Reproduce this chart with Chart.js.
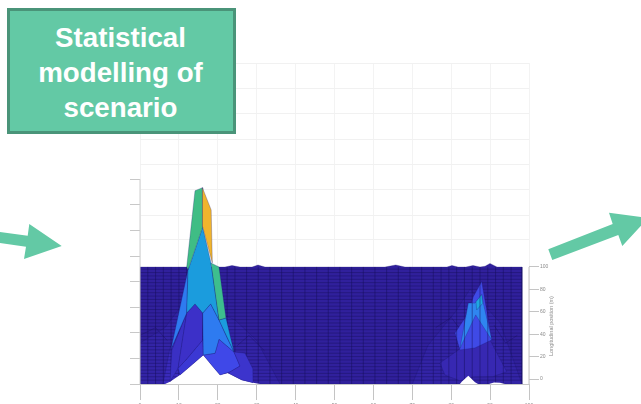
<!DOCTYPE html>
<html>
<head>
<meta charset="utf-8">
<script src="https://cdn.jsdelivr.net/npm/chart.js@4"></script>
<style>
html, body { margin: 0; padding: 0; background: #fff; overflow: hidden; }
#wrap { position: relative; width: 641px; height: 404px; overflow: hidden; }
#c { position: absolute; left: 0; top: 0; filter: blur(0.55px); }
#arrows { position: absolute; left: 0; top: 0; }
#box {
    position: absolute; left: 7px; top: 8px; width: 221px; height: 120px; padding-right: 2px;
    background: #63c9a5; border: 3px solid #4a9479;
    color: #fff; font: bold 27.7px/35px "Liberation Sans", Arial, sans-serif;
    text-align: center;
}
#box div:first-child { margin-top: 9px; }
#ylabel {
    position: absolute; left: 551px; top: 326px; white-space: nowrap;
    font: 5.5px "Liberation Sans", Arial, sans-serif; color: #8a8a8a;
    transform: translate(-50%, -50%) rotate(-90deg);
}
</style>
</head>
<body>
<div id="wrap">
    <canvas id="c" width="641" height="404"></canvas>
    <svg id="arrows" width="641" height="404">
        <polygon fill="#63c9a5" points="0,232 27.7,235.7 29.3,224 61.7,246 24,259 26,246.7 0,243"/>
        <polygon fill="#63c9a5" points="548.3,249.3 552.3,260 618.3,235 622.3,246 648,218 609,212.7 612.7,224"/>
    </svg>
    <div id="box"><div>Statistical</div><div>modelling of</div><div>scenario</div></div>
    <div id="ylabel">Longitudinal position (m)</div>
</div>
<script>
// axis ticks
var xTicks = [0, 10, 20, 30, 40, 50, 60, 70, 80, 90, 100];
var leftTicks = [0, 1, 2, 3, 4, 5, 6, 7, 8];
var rightTicks = [0, 20, 40, 60, 80, 100];
var wallTicks = [5.63, 6.6, 7.58, 8.57, 9.57, 10.57, 11.56, 12.54];

// mesh lines, columns on x, rows on the longitudinal axis
var meshColumns = [0, 2, 4, 6, 8, 10, 12, 14, 16.1, 18.2, 20.3, 22.4, 24.4, 27.4, 30.4, 33.4, 36.4, 39.4, 42.4, 45.4, 48.4, 51.4, 54.4, 57.4, 60.4, 63.4, 66.4, 69.4, 72.4, 75.4, 77.4, 79.4, 81.4, 83.4, 85.4, 87.4, 89.4, 91.4, 93.4, 95.4, 98.2];
var meshRows = [98, 95, 92, 89, 86, 83, 80, 77, 74, 71, 68, 65, 62, 59, 56, 53, 50, 47, 44, 41, 38, 35, 32, 29, 26, 23, 20, 17, 14, 11, 8, 5, 2, -1];

// surface outline [x, height]
var surfaceBack = [[0, 0], [0, 4.57], [21.85, 4.57], [23.65, 4.63], [25.7, 4.57], [28.8, 4.57], [30.33, 4.65], [32.13, 4.57], [62.98, 4.57], [65.73, 4.65], [68.12, 4.57], [78.92, 4.57], [80.2, 4.63], [81.75, 4.57], [83.8, 4.57], [85.6, 4.63], [87.4, 4.57], [88.7, 4.6], [89.97, 4.71], [91.77, 4.57], [98.2, 4.57], [98.2, 0]];

// soft faces round the two peaks
var baseLeft = [[0, 0], [0, 1.6], [6.43, 2.2], [11.83, 3.3], [24.42, 2.5], [30, 1.7], [36, 0]];
var baseLeftInner = [[5.9, 0], [7.7, 1.4], [12, 2.5], [24.2, 1.3], [27, 0.8], [28.5, 0]];
var baseRight = [[70, 0], [74, 1.5], [80.98, 2.8], [84.83, 3.7], [92.54, 2.4], [98.2, 0]];

// right peak faces
var rightBottom = [[82.25, 1.37], [86.12, 1.42], [89.97, 1.72], [94.27, 0.48], [90.75, 0.29], [85.6, 0.28], [82.25, 0.13], [78.4, 0.35], [77.1, 0.82]];
var rightOuter = [[87.84, 4.0], [90.41, 1.72], [86.12, 1.41], [82.25, 1.33], [80.98, 1.99], [84.4, 2.77], [85.68, 3.41]];
var rightBright = [[84.4, 3.16], [86.12, 3.16], [87.84, 3.48], [88.26, 3.16], [90.41, 1.72], [86.3, 2.7], [82.25, 1.39]];
var rightCyan = [[86.37, 3.21], [87.84, 3.5], [88.1, 3.15], [86.55, 2.89]];

// white gaps along the front edge
var gapLeft = [[6.43, 0], [7.71, 0.09], [10.28, 0.35], [13.29, 0.74], [16.27, 1.13], [18.77, 0.67], [20.57, 0.35], [22.62, 0.43], [26.14, 0.16], [29.05, 0.05], [30.85, 0]];
var gapRight = [[82.26, 0], [82.7, 0.09], [84.4, 0.32], [86.12, 0.07], [86.9, 0]];
var gapSmall = [[89.72, 0], [91, 0.06], [92.54, 0.05], [93.8, 0]];

// left peak faces
var faceOuterLeft = [[8.2, 1.33], [12, 2.77], [9.8, 0.62], [7.71, 0.09]];
var faceLowBlue = [[16.12, 1.72], [16.27, 1.13], [13.29, 0.74], [10.28, 0.35], [9.8, 0.62], [11.8, 0.94]];
var faceLowLeft = [[12, 2.77], [14.14, 3.13], [16.12, 2.77], [16.12, 1.72], [11.8, 0.94], [9.8, 0.62]];
var faceLowMid = [[19.28, 1.2], [20.31, 1.75], [24.16, 1.25], [25.7, 0.7], [23.1, 0.47], [20.57, 0.35], [18.77, 0.67], [16.27, 1.13]];
var faceLowRight = [[24.16, 1.25], [27, 1.2], [29, 0.6], [29.05, 0.05], [26.14, 0.16], [22.62, 0.43], [23.1, 0.47], [25.7, 0.7]];
var faceBlueLeft = [[12.34, 4.45], [7.97, 1.36], [12, 2.77]];
var faceBlueCentre = [[16.12, 2.77], [18.17, 3.13], [20.31, 2.5], [22.1, 1.9], [24.16, 1.25], [20.31, 1.75], [19.28, 1.2], [16.27, 1.13]];
var faceCyan = [[16.12, 6.14], [12.34, 4.45], [12, 2.77], [14.14, 3.13], [16.12, 2.77], [18.17, 3.13], [20.31, 2.5], [18.25, 4.73]];
var faceCyanTip = [[20.31, 2.5], [22.1, 2.58], [24.16, 1.25]];
var faceGreenRight = [[18.25, 4.73], [20.31, 4.57], [22.1, 2.58], [20.31, 2.5]];
var faceGreenLeft = [[14.14, 7.55], [16.05, 7.67], [16.12, 6.14], [12.34, 4.45], [12, 4.57]];
var faceOrange = [[16.05, 7.67], [18.3, 6.8], [18.6, 4.73], [16.12, 6.14]];

// small folds in the mesh near the peaks
var foldA = [[0, 1.9], [4, 2.2], [7, 1.7]];
var foldB = [[25, 1.5], [28, 1.9], [32, 1.3]];
var foldC = [[76, 2.2], [80, 2.6], [83, 2.0]];
var foldD = [[91, 2.3], [94, 1.6], [97, 1.9]];

var lineDark = 'rgba(22,14,90,0.6)';
var edgeDark = 'rgba(28,24,110,0.45)';

var datasets = [];

function pts(list) {
    return list.map(function(p) { return { x: p[0], y: p[1] }; });
}

function addFace(list, colour) {
    datasets.push({
        data: pts(list.concat([list[0]])),
        fill: 'shape',
        backgroundColor: colour,
        borderColor: edgeDark,
        borderWidth: 0.6
    });
}

function addLine(data, colour, width, axis, noClip) {
    datasets.push({
        data: data,
        yAxisID: axis || 'y',
        borderColor: colour,
        borderWidth: width,
        clip: noClip ? false : undefined
    });
}

function addGap(list) {
    datasets.push({
        data: pts(list.concat([list[0]])),
        fill: 'shape',
        backgroundColor: '#ffffff',
        borderColor: '#ffffff',
        borderWidth: 0
    });
}

addFace(surfaceBack, '#30209c');
addFace(baseLeft, '#3324a6');
addFace(baseLeftInner, '#3a2bbc');
addFace(baseRight, '#3324a6');

meshRows.forEach(function(r) {
    addLine([{ x: 0, y: r }, { x: 98.2, y: r }], lineDark, 0.7, 'yRight');
});

[foldA, foldB, foldC, foldD].forEach(function(f) { addLine(pts(f), lineDark, 0.6); });

addFace(rightBottom, '#3728b2');
addFace(rightOuter, '#3f4ae6');
addFace(rightBright, '#2f86f0');
addFace(rightCyan, '#1fa8e0');

meshColumns.forEach(function(c) {
    addLine([{ x: c, y: -4.46 }, { x: c, y: 100 }], lineDark, 0.8, 'yRight');
});

addGap(gapLeft);
addGap(gapRight);
addGap(gapSmall);

addFace(faceOuterLeft, '#3a30c4');
addFace(faceLowBlue, '#3b38d4');
addFace(faceLowLeft, '#3c30c8');
addFace(faceLowMid, '#3f48e8');
addFace(faceLowRight, '#3c34cc');
addFace(faceBlueLeft, '#2e7bf0');
addFace(faceBlueCentre, '#2e7bf0');
addFace(faceCyan, '#1b9cdd');
addFace(faceCyanTip, '#1b9cdd');
addFace(faceGreenRight, '#3dbe8e');
addFace(faceGreenLeft, '#3fbd85');
addFace(faceOrange, '#f0b42d');

// axis lines that stop short of the wall grid
addLine([{ x: 0, y: 0 }, { x: 0, y: 8 }], '#cfcfcf', 1, 'y', true);
addLine([{ x: 100, y: -4.46 }, { x: 100, y: 100 }], '#c4c4c4', 1, 'yRight', true);

// chart.js paints the first dataset last
datasets.reverse();

new Chart(document.getElementById('c').getContext('2d'), {
    type: 'scatter',
    data: { datasets: datasets },
    options: {
        responsive: false,
        animation: false,
        layout: { padding: { top: 63, left: 130, right: 82, bottom: 0 } },
        plugins: { legend: { display: false }, tooltip: { enabled: false } },
        elements: { point: { radius: 0 }, line: { tension: 0 } },
        datasets: { scatter: { showLine: true } },
        scales: {
            x: {
                type: 'linear', min: 0, max: 100,
                afterBuildTicks: function(s) { s.ticks = xTicks.map(function(v) { return { value: v }; }); },
                afterFit: function(s) { s.height = 20; },
                border: { color: '#c8c8c8' },
                grid: { color: '#f3f3f3', tickColor: '#c4c4c4', tickLength: 16 },
                ticks: { autoSkip: false, maxRotation: 0, padding: 3, color: '#8a8a8a', font: { size: 5 } }
            },
            y: {
                min: 0, max: 12.54, position: 'left',
                afterBuildTicks: function(s) { s.ticks = leftTicks.map(function(v) { return { value: v }; }); },
                afterFit: function(s) { s.width = 10; },
                border: { display: false },
                grid: { drawOnChartArea: false, tickColor: '#c8c8c8', tickLength: 10 },
                ticks: { display: false, autoSkip: false }
            },
            yWall: {
                min: 0, max: 12.54, position: 'left',
                afterBuildTicks: function(s) { s.ticks = wallTicks.map(function(v) { return { value: v }; }); },
                afterFit: function(s) { s.width = 0; },
                border: { display: false },
                grid: { color: '#f1f1f1', drawTicks: false },
                ticks: { display: false, autoSkip: false }
            },
            yRight: {
                min: -4.46, max: 282, position: 'right',
                afterBuildTicks: function(s) { s.ticks = rightTicks.map(function(v) { return { value: v }; }); },
                afterFit: function(s) { s.width = 30; },
                border: { display: false },
                grid: { drawOnChartArea: false, tickColor: '#c4c4c4', tickLength: 10 },
                ticks: { autoSkip: false, padding: 1, color: '#8a8a8a', font: { size: 5 } }
            }
        }
    }
});
</script>
</body>
</html>
